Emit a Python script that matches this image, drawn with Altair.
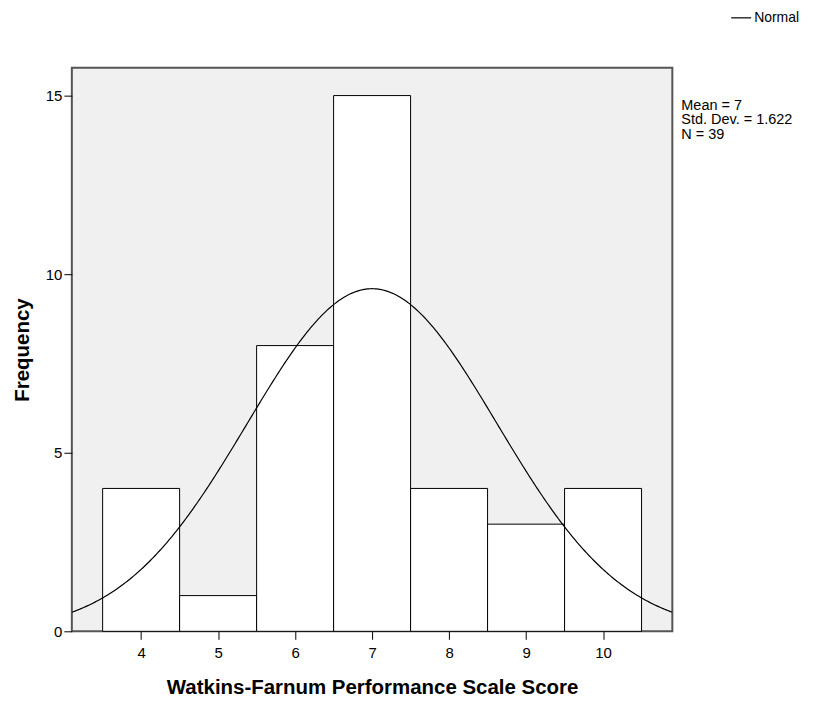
import altair as alt
import pandas as pd

# Data
scores = [4, 5, 6, 7, 8, 9, 10]
frequency = [4, 1, 8, 15, 4, 3, 4]
mean_val = 7
sd_val = 1.622
n_val = 39
bin_width = 1
x_domain = [3.1, 10.9]
y_domain = [0, 15.78]
y_ticks = [0, 5, 10, 15]

bars_df = pd.DataFrame({
    "score": scores,
    "freq": frequency,
})
bars_df["lo"] = bars_df["score"] - bin_width / 2
bars_df["hi"] = bars_df["score"] + bin_width / 2

stats_df = pd.DataFrame({
    "label": [f"Mean = {mean_val}\nStd. Dev. = {sd_val}\nN = {n_val}"]
})

FONT = "Liberation Sans"
W, H = 602, 565

xscale = alt.Scale(domain=x_domain, nice=False, zero=False)
yscale = alt.Scale(domain=y_domain, nice=False)

xaxis = alt.Axis(
    title="Watkins-Farnum Performance Scale Score",
    values=scores, grid=False, domain=False,
    tickColor="black", tickSize=8, labelPadding=6,
    labelFont=FONT, labelFontSize=15, labelColor="black",
    titleFont=FONT, titleFontSize=20.5, titleFontWeight="bold", titleColor="black",
    titlePadding=17,
)
yaxis = alt.Axis(
    title="Frequency",
    values=y_ticks, grid=False, domain=False,
    tickColor="black", tickSize=8, labelPadding=2,
    labelFont=FONT, labelFontSize=15, labelColor="black",
    titleFont=FONT, titleFontSize=20.5, titleFontWeight="bold", titleColor="black",
    titlePadding=13,
)

bars = alt.Chart(bars_df).mark_rect(
    fill="white", stroke="black", strokeWidth=1
).encode(
    x=alt.X("lo:Q", scale=xscale, axis=xaxis),
    x2="hi:Q",
    y=alt.Y("freq:Q", scale=yscale, axis=yaxis),
    y2=alt.datum(0),
)

curve = alt.Chart(
    alt.sequence(x_domain[0], x_domain[1] + 0.001, 0.02, as_="x")
).transform_calculate(
    y=f"{n_val}*{bin_width}/({sd_val}*sqrt(2*PI))*exp(-0.5*pow((datum.x-{mean_val})/{sd_val},2))",
    series="'Normal'",
).mark_line(strokeWidth=1.2, clip=True).encode(
    x=alt.X("x:Q", scale=xscale, axis=xaxis),
    y=alt.Y("y:Q", scale=yscale, axis=yaxis),
    color=alt.Color(
        "series:N",
        scale=alt.Scale(domain=["Normal"], range=["black"]),
        legend=alt.Legend(
            orient="none", legendX=660, legendY=-61, title=None,
            symbolType="stroke", symbolSize=400, symbolStrokeWidth=1.2,
            labelFont=FONT, labelFontSize=14, labelColor="black",
            labelOffset=2, padding=0,
        ),
    ),
)

stats = alt.Chart(stats_df).mark_text(
    align="left", baseline="top", font=FONT, fontSize=14.5, color="black",
    lineBreak="\n", lineHeight=14.5,
).encode(
    x=alt.value(611),
    y=alt.value(31),
    text="label:N",
)

chart = alt.layer(bars, curve, stats).properties(
    width=W, height=H,
    padding={"left": 64, "top": 59, "right": 139, "bottom": 71},
    autosize=alt.AutoSizeParams(type="none"),
    background="white",
).configure_view(
    fill="#f0f0f0", stroke="#555555", strokeWidth=2,
)

chart.save("out.html", embed_options={"renderer": "svg", "actions": False})
